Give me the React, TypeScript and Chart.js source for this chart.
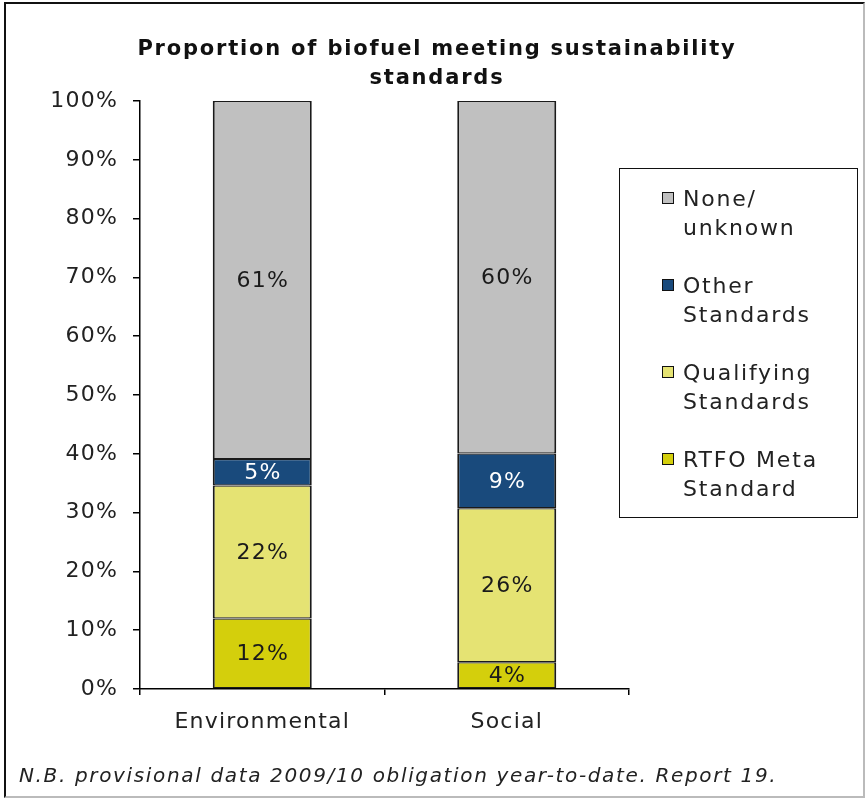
import React, { useEffect, useRef } from "react";
import { Chart, registerables } from "chart.js";

Chart.register(...registerables);

const TITLE_LINES = ["Proportion of biofuel meeting sustainability", "standards"];
const CATEGORIES = ["Environmental", "Social"];
const SERIES_NAMES = ["RTFO Meta Standard", "Qualifying Standards", "Other Standards", "None/unknown"];
const LEGEND_LINES = [["RTFO Meta", "Standard"], ["Qualifying", "Standards"], ["Other", "Standards"], ["None/", "unknown"]];
const SERIES_COLORS = ["#D4CF0C", "#E5E373", "#194A7C", "#C0C0C0"];
const LABEL_COLORS = ["#1a1a1a", "#1a1a1a", "#ffffff", "#1a1a1a"];
const RTFO = [12.0, 4.55];
const QUALIFYING = [22.6, 26.2];
const OTHER = [4.5, 9.3];
const NONE = [60.9, 60.0];
const RTFO_LABELS = ["12%", "4%"];
const QUALIFYING_LABELS = ["22%", "26%"];
const OTHER_LABELS = ["5%", "9%"];
const NONE_LABELS = ["61%", "60%"];
const Y_TICKS = [0, 10, 20, 30, 40, 50, 60, 70, 80, 90, 100];
const FOOTNOTE = "N.B. provisional data 2009/10 obligation year-to-date. Report 19.";

const SERIES_VALUES = [RTFO, QUALIFYING, OTHER, NONE];
const SERIES_LABELS = [RTFO_LABELS, QUALIFYING_LABELS, OTHER_LABELS, NONE_LABELS];

const FONT = "'DejaVu Sans', Verdana, sans-serif";
const CANVAS_SPACING = "1.2px";

const spacingPlugin = {
  id: "spacing",
  beforeInit(chart: any) {
    chart.ctx.letterSpacing = CANVAS_SPACING;
  },
  beforeUpdate(chart: any) {
    chart.ctx.letterSpacing = CANVAS_SPACING;
  },
  beforeDraw(chart: any) {
    chart.ctx.letterSpacing = CANVAS_SPACING;
  },
};

const barLabelPlugin = {
  id: "barLabels",
  afterDatasetsDraw(chart: any) {
    const ctx = chart.ctx;
    ctx.save();
    ctx.font = `22px ${FONT}`;
    ctx.textAlign = "center";
    ctx.textBaseline = "middle";
    chart.data.datasets.forEach((ds: any, di: number) => {
      const meta = chart.getDatasetMeta(di);
      meta.data.forEach((bar: any, i: number) => {
        const p = bar.getProps(["x", "y", "base"], true);
        ctx.fillStyle = LABEL_COLORS[di];
        ctx.fillText(SERIES_LABELS[di][i], p.x + 0.6, (p.y + p.base) / 2 + 1);
      });
    });
    ctx.restore();
  },
};

export default function App() {
  const canvasRef = useRef<HTMLCanvasElement | null>(null);

  useEffect(() => {
    if (!canvasRef.current) return;
    const chart = new Chart(canvasRef.current, {
      type: "bar",
      data: {
        labels: CATEGORIES,
        datasets: SERIES_NAMES.map((name, i) => ({
          label: name,
          data: SERIES_VALUES[i],
          backgroundColor: SERIES_COLORS[i],
          borderColor: "#1a1a1a",
          borderWidth: { top: 1.2, bottom: 1.2, left: 2, right: 2 },
          borderSkipped: false,
          categoryPercentage: 1,
          barPercentage: 0.405,
        })),
      },
      options: {
        responsive: false,
        animation: false,
        events: [],
        layout: { padding: { left: 0, right: 236, top: 101, bottom: 49 } },
        plugins: {
          legend: { display: false },
          title: { display: false },
          tooltip: { enabled: false },
        },
        scales: {
          x: {
            stacked: true,
            afterFit: (s: any) => {
              s.height = 60;
            },
            grid: {
              offset: true,
              drawOnChartArea: false,
              drawTicks: true,
              tickLength: 6,
              color: "#000000",
              lineWidth: 1.5,
            },
            border: { display: true, color: "#000000", width: 1.5 },
            ticks: {
              color: "#222222",
              font: { family: FONT, size: 22 },
              padding: 14,
            },
          },
          y: {
            stacked: true,
            min: 0,
            max: 100,
            afterFit: (s: any) => {
              s.width = 140;
            },
            afterBuildTicks: (s: any) => {
              s.ticks = Y_TICKS.map((v) => ({ value: v }));
            },
            grid: {
              drawOnChartArea: false,
              drawTicks: true,
              tickLength: 7,
              color: "#000000",
              lineWidth: 1.5,
            },
            border: { display: true, color: "#000000", width: 1.5 },
            ticks: {
              color: "#222222",
              font: { family: FONT, size: 22 },
              padding: 15,
              callback: (v: any) => `${v}%`,
            },
          },
        },
      },
      plugins: [spacingPlugin, barLabelPlugin],
    });
    return () => chart.destroy();
  }, []);

  return (
    <div
      style={{
        position: "absolute",
        left: 0,
        top: 0,
        width: 865,
        height: 798,
        background: "#ffffff",
        fontFamily: FONT,
        overflow: "hidden",
      }}
    >
      <canvas ref={canvasRef} width={865} height={798} style={{ position: "absolute", left: 0, top: 0 }} />
      <div
        style={{
          position: "absolute",
          left: 4,
          top: 2,
          width: 861,
          height: 796,
          boxSizing: "border-box",
          borderTop: "2px solid #111",
          borderLeft: "2px solid #111",
          borderRight: "2px solid #bbbbbb",
          borderBottom: "2px solid #bbbbbb",
          pointerEvents: "none",
        }}
      />
      {TITLE_LINES.map((line, i) => (
        <div
          key={line}
          style={{
            position: "absolute",
            left: 37,
            width: 800,
            top: 34 + i * 29,
            height: 29,
            lineHeight: "29px",
            textAlign: "center",
            fontWeight: "bold",
            fontSize: 21,
            letterSpacing: "1.8px",
            color: "#111",
            whiteSpace: "nowrap",
          }}
        >
          {line}
        </div>
      ))}
      <div
        style={{
          position: "absolute",
          left: 619,
          top: 168,
          width: 239,
          height: 350,
          boxSizing: "border-box",
          border: "1.5px solid #111",
          background: "#fff",
        }}
      />
      {[3, 2, 1, 0].map((si, k) => (
        <React.Fragment key={si}>
          <div
            style={{
              position: "absolute",
              left: 662,
              top: 192 + k * 87,
              width: 12,
              height: 12,
              boxSizing: "border-box",
              border: "1px solid #111",
              background: SERIES_COLORS[si],
            }}
          />
          {LEGEND_LINES[si].map((t, j) => (
            <div
              key={t}
              style={{
                position: "absolute",
                left: 683,
                top: 184 + k * 87 + j * 29,
                height: 29,
                lineHeight: "29px",
                fontSize: 22,
                letterSpacing: "1.8px",
                color: "#222",
                whiteSpace: "nowrap",
              }}
            >
              {t}
            </div>
          ))}
        </React.Fragment>
      ))}
      <div
        style={{
          position: "absolute",
          left: 19,
          top: 761,
          height: 28,
          lineHeight: "28px",
          fontSize: 20,
          fontStyle: "italic",
          letterSpacing: "1.65px",
          color: "#222",
          whiteSpace: "nowrap",
        }}
      >
        {FOOTNOTE}
      </div>
    </div>
  );
}
